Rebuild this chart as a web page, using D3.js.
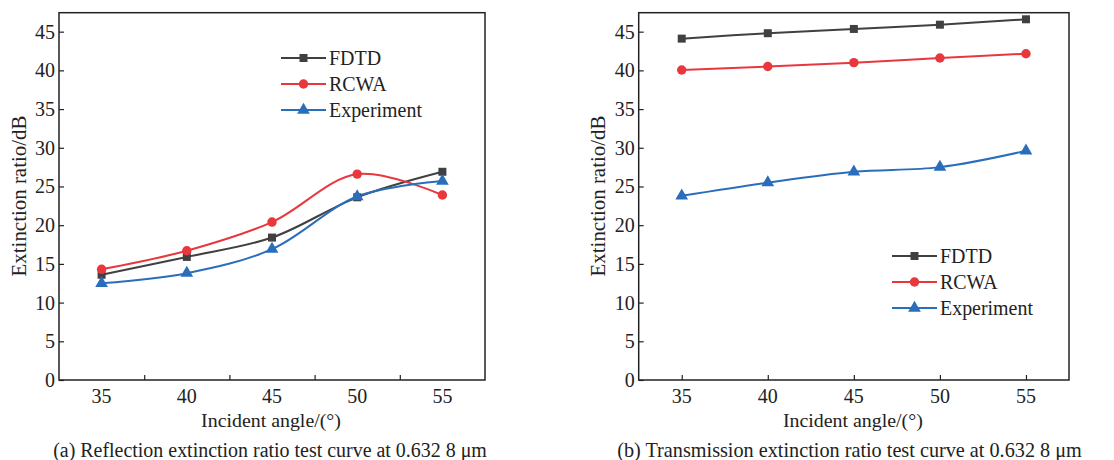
<!DOCTYPE html>
<html>
<head>
<meta charset="utf-8">
<script src="https://cdn.jsdelivr.net/npm/d3@7"></script>
<style>
  body { margin: 0; background: #fff; }
</style>
</head>
<body>
<svg id="chart"></svg>
<script>
const width = 1114;
const height = 460;

const angles = [35, 40, 45, 50, 55];
const yTicks = [0, 5, 10, 15, 20, 25, 30, 35, 40, 45];
const seriesNames = ["FDTD", "RCWA", "Experiment"];

// (a) reflection
const reflFDTD = [13.6, 15.9, 18.4, 23.6, 26.9];
const reflRCWA = [14.3, 16.7, 20.4, 26.6, 23.9];
const reflExp = [12.5, 13.8, 16.9, 23.7, 25.7];

// (b) transmission
const transFDTD = [44.1, 44.8, 45.35, 45.9, 46.6];
const transRCWA = [40.05, 40.5, 41.0, 41.6, 42.15];
const transExp = [23.8, 25.5, 26.9, 27.5, 29.6];

const colors = { FDTD: "#404040", RCWA: "#e8383d", Experiment: "#2a6ebb" };
const symbols = { FDTD: d3.symbolSquare, RCWA: d3.symbolCircle, Experiment: d3.symbolTriangle };
const symSize = { FDTD: 64, RCWA: 70, Experiment: 70 };

const svg = d3.select("#chart")
    .attr("width", width)
    .attr("height", height)
    .style("font-family", "'Liberation Serif'");

const txt = sel => sel.style("font-family", "'Liberation Serif'").attr("fill", "#222");

// scale font so a text spans the width it has in the picture
function fit(sel, target) {
    const n = sel.node();
    const fs = +sel.attr("font-size");
    const w = n.getComputedTextLength();
    if (w > 0) sel.attr("font-size", fs * target / w);
    return +sel.attr("font-size");
}

function panel(cfg) {
    const x = d3.scaleLinear().domain([32.5, 57.5]).range([cfg.left, cfg.right]);
    const y = d3.scaleLinear().domain([0, 47.45]).range([380, 12.7]);
    const g = svg.append("g");

    // ticks inside
    g.append("g")
        .attr("transform", "translate(0,380)")
        .call(d3.axisBottom(x).tickValues(cfg.xTickPos).tickSize(-5).tickFormat(""))
        .call(a => a.select(".domain").remove())
        .selectAll("line").attr("stroke", "#222").attr("stroke-width", 1.2);

    g.append("g")
        .attr("transform", `translate(${cfg.left},0)`)
        .call(d3.axisLeft(y).tickValues(yTicks).tickSize(-5).tickFormat(""))
        .call(a => a.select(".domain").remove())
        .selectAll("line").attr("stroke", "#222").attr("stroke-width", 1.2);

    g.append("rect")
        .attr("x", cfg.left).attr("y", 12.7)
        .attr("width", cfg.right - cfg.left).attr("height", 380 - 12.7)
        .attr("fill", "none").attr("stroke", "#222").attr("stroke-width", 1.5);

    g.selectAll(".xl").data(angles).enter().append("text")
        .call(txt)
        .attr("x", d => x(d)).attr("y", 403)
        .attr("text-anchor", "middle").attr("font-size", 20)
        .text(d => d);

    g.selectAll(".yl").data(yTicks).enter().append("text")
        .call(txt)
        .attr("x", cfg.left - 4).attr("y", d => y(d))
        .attr("dy", "0.35em")
        .attr("text-anchor", "end").attr("font-size", 20)
        .text(d => d);

    g.append("text")
        .call(txt)
        .attr("x", (cfg.left + cfg.right) / 2 - 1).attr("y", 426.5)
        .attr("text-anchor", "middle").attr("font-size", 20)
        .text("Incident angle/(°)")
        .call(s => fit(s, 140));

    g.append("text")
        .call(txt)
        .attr("transform", `translate(${cfg.ytitleX},196) rotate(-90)`)
        .attr("text-anchor", "middle").attr("font-size", 20)
        .text("Extinction ratio/dB")
        .call(s => fit(s, 161));

    g.append("text")
        .call(txt)
        .attr("x", cfg.captionX).attr("y", 456.5)
        .attr("text-anchor", "middle").attr("font-size", 19.5)
        .text(cfg.caption)
        .call(s => fit(s, cfg.captionW));

    const line = d3.line()
        .x((d, i) => x(angles[i]))
        .y(d => y(d))
        .curve(d3.curveCatmullRom.alpha(0.5));

    seriesNames.forEach(name => {
        const vals = cfg.data[name];
        g.append("path")
            .attr("d", line(vals))
            .attr("fill", "none")
            .attr("stroke", colors[name])
            .attr("stroke-width", 2);
    });
    seriesNames.forEach(name => {
        const vals = cfg.data[name];
        g.selectAll(null).data(vals).enter().append("path")
            .attr("transform", (d, i) => `translate(${x(angles[i])},${y(d)})`)
            .attr("d", d3.symbol().type(symbols[name]).size(symSize[name]))
            .attr("fill", colors[name]);
    });

    // legend
    const lg = g.append("g");
    let legendFs = 20.5;
    seriesNames.slice().reverse().forEach(name => {
        const i = seriesNames.indexOf(name);
        const ly = cfg.legendY + i * 26;
        lg.append("line")
            .attr("x1", cfg.legendX).attr("x2", cfg.legendX + 45)
            .attr("y1", ly).attr("y2", ly)
            .attr("stroke", colors[name]).attr("stroke-width", 2);
        lg.append("path")
            .attr("transform", `translate(${cfg.legendX + 22.5},${ly})`)
            .attr("d", d3.symbol().type(symbols[name]).size(symSize[name]))
            .attr("fill", colors[name]);
        const t = lg.append("text")
            .call(txt)
            .attr("x", cfg.legendX + 48).attr("y", ly)
            .attr("dy", "0.35em").attr("font-size", legendFs)
            .text(name);
        if (name === "Experiment") legendFs = fit(t, 93);
    });
}

panel({
    left: 59, right: 485,
    xTickPos: [37.5, 42.5, 47.5, 52.5],
    ytitleX: 26,
    captionX: 270, captionW: 434,
    caption: "(a) Reflection extinction ratio test curve at 0.632 8 μm",
    legendX: 281, legendY: 58,
    data: { FDTD: reflFDTD, RCWA: reflRCWA, Experiment: reflExp }
});

panel({
    left: 638.7, right: 1069,
    xTickPos: angles,
    ytitleX: 605,
    captionX: 849.5, captionW: 465,
    caption: "(b) Transmission extinction ratio test curve at 0.632 8 μm",
    legendX: 892, legendY: 256,
    data: { FDTD: transFDTD, RCWA: transRCWA, Experiment: transExp }
});
</script>
</body>
</html>
